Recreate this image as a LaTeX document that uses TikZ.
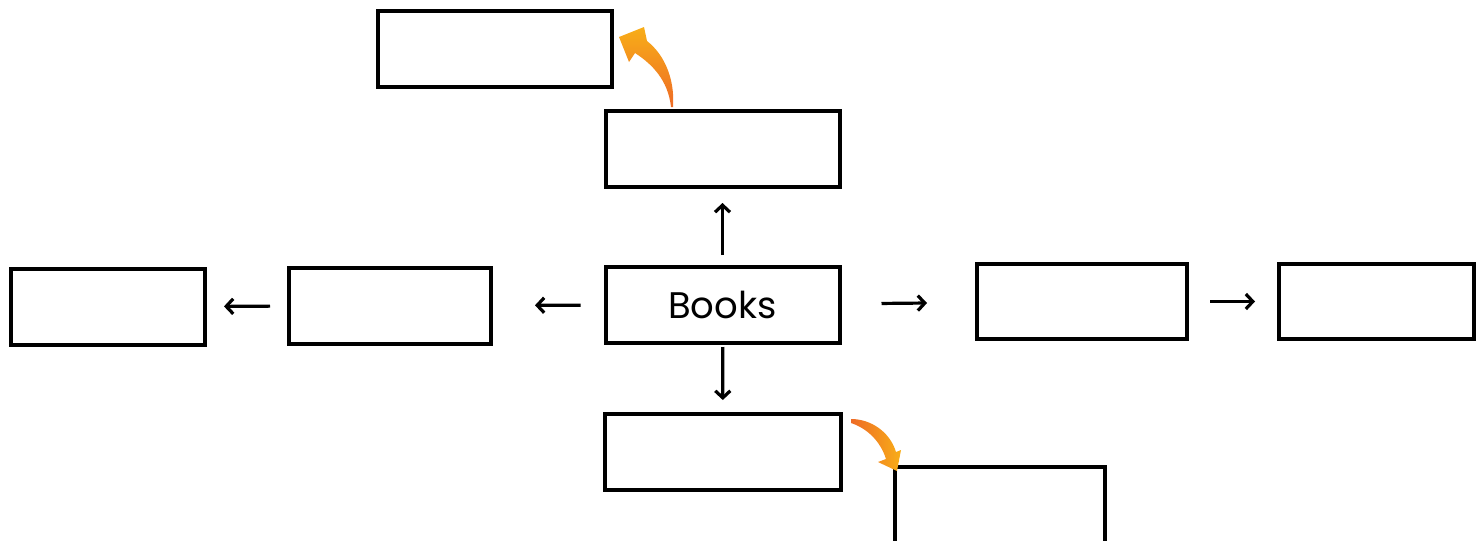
\documentclass[tikz,border=0pt]{standalone}
\usepackage{fontspec}
\setmainfont{Poppins}
\usetikzlibrary{arrows.meta}

\definecolor{tailorange}{HTML}{EE6B26}
\definecolor{headyellow}{HTML}{F8AE18}

\tikzset{
  box/.style={draw, line width=4pt, minimum width=234pt, minimum height=76pt, inner sep=0pt, outer sep=0pt},
  link/.style={-{Straight Barb[length=7pt,width=15pt]}, line width=3.2pt}
}

\begin{document}
\begin{tikzpicture}[x=1pt,y=-1pt]
\useasboundingbox (0,0) rectangle (1484,541);
\clip (0,0) rectangle (1484,541);

%Middle row
\node[box] (books) at (722.5,305) {\fontsize{37}{44}\selectfont\raisebox{-3pt}{Books}};
\node[box, minimum width=202pt] (left1) at (390,305.5) {};
\node[box, minimum width=194pt] (left2) at (108,307) {};
\node[box, minimum width=210pt, minimum height=75pt] (right1) at (1082,301.5) {};
\node[box, minimum width=195pt, minimum height=75pt] (right2) at (1376.5,301.5) {};

%Upper branch
\node[box] (upper) at (722.5,149) {};
\node[box] (top) at (495,49) {};

%Lower branch
\node[box, minimum width=236pt] (lower) at (723,452) {};
\node[box, minimum width=210pt, minimum height=120pt, anchor=north] (corner) at (1000,467) {};

%Black arrows
\draw[link, shorten <=12pt, shorten >=16pt] (books) -- (upper);
\draw[link, shorten <=4pt, shorten >=14pt] (books) -- (lower);
\draw[link, shorten <=25pt, shorten >=44pt] (books) -- (left1);
\draw[link, shorten <=19pt, shorten >=19pt] (left1) -- (left2);
\draw[link, shorten <=42pt, shorten >=50pt] (books) -- (right1);
\draw[link, shorten <=23pt, shorten >=24pt] (right1) -- (right2);

%Orange arrows
\shade[top color=headyellow, bottom color=tailorange]
  (673,107) .. controls (675,80) and (665,55) .. (647,41) -- (644,27) -- (619,37)
  -- (629,62) -- (635,53) .. controls (652,64) and (668,80) .. (671,107) -- cycle;
\shade[left color=tailorange, right color=headyellow]
  (851,419) .. controls (871,419) and (890,432) .. (896,452) -- (901,450) -- (897,471)
  -- (878,462) -- (886,459) .. controls (880,440) and (866,428) .. (851,423) -- cycle;
\end{tikzpicture}
\end{document}
